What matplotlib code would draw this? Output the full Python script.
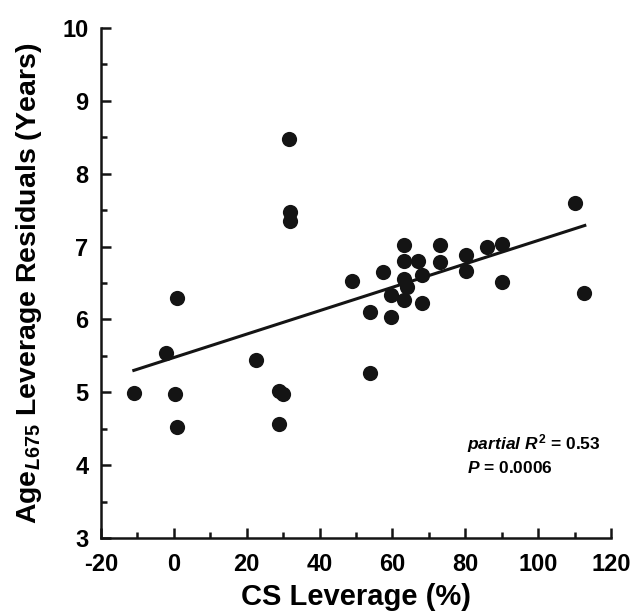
import matplotlib
matplotlib.use("Agg")
import matplotlib.pyplot as plt
import numpy as np
from matplotlib.ticker import MultipleLocator

# values
cs_leverage = [-10.9, -2.2, 0.9, 0.3, 0.9, 22.5, 28.9, 30.0, 28.9, 31.7, 31.9, 31.9,
               48.9, 53.8, 53.8, 59.6, 57.4, 63.1, 63.1, 67.1, 73.0, 73.0, 68.0,
               63.1, 63.9, 59.5, 63.1, 68.0, 80.1, 80.1, 86.0, 90.1, 90.1, 110.1, 112.5]
age_residuals = [4.99, 5.54, 6.29, 4.97, 4.52, 5.44, 5.02, 4.97, 4.56, 8.48, 7.47, 7.35,
                 6.53, 6.10, 5.27, 6.03, 6.65, 7.02, 6.80, 6.80, 7.02, 6.79, 6.61,
                 6.55, 6.45, 6.33, 6.27, 6.22, 6.88, 6.66, 7.00, 7.04, 6.51, 7.60, 6.36]
fit_slope, fit_intercept = 0.01607, 5.477
fit_range = [-11.0, 112.8]
stats_text = [r"$\mathit{partial\ R}^{2}$ = 0.53", r"$\mathit{P}$ = 0.0006"]

plt.rcParams["font.family"] = ["Liberation Sans", "DejaVu Sans"]
plt.rcParams["font.weight"] = "bold"
plt.rcParams["axes.unicode_minus"] = False
plt.rcParams["mathtext.fontset"] = "custom"
plt.rcParams["mathtext.rm"] = "Liberation Sans:bold"
plt.rcParams["mathtext.bf"] = "Liberation Sans:bold"
plt.rcParams["mathtext.it"] = "Liberation Sans:italic:bold"

ink = "#141414"
fig = plt.figure(figsize=(6.33, 6.14), dpi=100)
ax = fig.add_axes([0.1596, 0.1238, 0.8057, 0.8306])

ax.scatter(cs_leverage, age_residuals, s=120, color=ink, zorder=3, linewidths=0)
fx = np.array(fit_range)
ax.plot(fx, fit_slope * fx + fit_intercept, color=ink, linewidth=2.2, zorder=2)

ax.set_xlim(-20, 120)
ax.set_ylim(3, 10)
ax.xaxis.set_major_locator(MultipleLocator(20))
ax.xaxis.set_minor_locator(MultipleLocator(10))
ax.yaxis.set_major_locator(MultipleLocator(1))
ax.yaxis.set_minor_locator(MultipleLocator(0.5))

for s in ["top", "right"]:
    ax.spines[s].set_visible(False)
for s in ["left", "bottom"]:
    ax.spines[s].set_linewidth(1.8)
    ax.spines[s].set_color(ink)

ax.tick_params(which="major", direction="in", length=7, width=1.8, labelsize=17,
               color=ink)
ax.tick_params(which="minor", direction="in", length=4, width=1.8, color=ink)
ax.tick_params(axis="x", which="major", pad=11)
ax.tick_params(axis="y", which="major", pad=9)

ax.set_xlabel("CS Leverage (%)", fontsize=21, fontweight="bold", labelpad=5)
ax.set_ylabel(r"Age$_{\mathit{L675}}$ Leverage Residuals (Years)", fontsize=20.5,
              fontweight="bold", labelpad=13)

ax.text(0.717, 0.1745, stats_text[0], transform=ax.transAxes, fontsize=12.5,
        fontweight="bold", va="baseline")
ax.text(0.717, 0.128, stats_text[1], transform=ax.transAxes, fontsize=12.5,
        fontweight="bold", va="baseline")

fig.savefig("out.png", dpi=100)
